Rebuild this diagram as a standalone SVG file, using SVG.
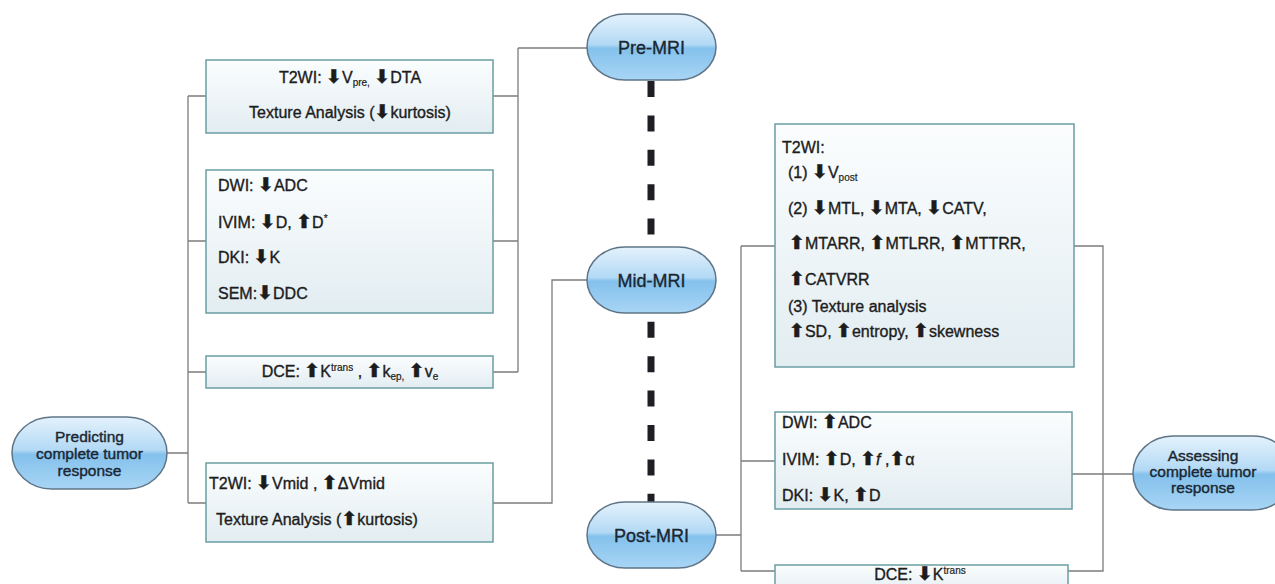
<svg xmlns="http://www.w3.org/2000/svg" width="1275" height="584" viewBox="0 0 1275 584">
<defs>
<linearGradient id="og" x1="0" y1="0" x2="0" y2="1">
<stop offset="0" stop-color="#e4f2fc"/>
<stop offset="0.46" stop-color="#b3d9f5"/>
<stop offset="0.52" stop-color="#84c1ec"/>
<stop offset="1" stop-color="#a8d5f5"/>
</linearGradient>
<linearGradient id="bg" x1="0" y1="0" x2="0" y2="1">
<stop offset="0" stop-color="#fbfdfe"/>
<stop offset="1" stop-color="#e2edf1"/>
</linearGradient>
<style>
.conn{fill:none;stroke:#7c7c7c;stroke-width:1.3}
.dash{fill:none;stroke:#1e1e24;stroke-width:7;stroke-dasharray:16 18.4}
.oval{fill:url(#og);stroke:#5f7587;stroke-width:1.5}
.box{fill:url(#bg);stroke:#6a9ea3;stroke-width:1.5}
.t{font-family:"Liberation Sans",Arial,sans-serif;font-size:16px;fill:#1c1c1c;stroke:#1c1c1c;stroke-width:0.35}
.ot{font-family:"Liberation Sans",Arial,sans-serif;font-size:18px;fill:#1a2733;stroke:#1a2733;stroke-width:0.35;text-anchor:middle}
.ot2{font-family:"Liberation Sans",Arial,sans-serif;font-size:15.5px;fill:#1a2733;stroke:#1a2733;stroke-width:0.4;text-anchor:middle}
.a{font-family:"DejaVu Sans",sans-serif;font-size:19px;font-weight:bold}
.s{font-size:10px;stroke-width:0.2}
.m{text-anchor:middle}
</style>
</defs>
<rect width="1275" height="584" fill="#ffffff"/>
<g id="connectors">
<line class="dash" x1="651" y1="81" x2="651" y2="502"/>
<path class="conn" d="M167 453 H188 M188 96 V503 M188 96 H206 M188 241 H206 M188 372 H206 M188 503 H206"/>
<path class="conn" d="M493 96 H518 M493 241 H518 M493 372 H518 M518 48 V372 M518 48 H587"/>
<path class="conn" d="M493 503 H552 V280 H587"/>
<path class="conn" d="M716 535 H741 M741 246 V571 M741 246 H775 M741 461 H775 M741 571 H775"/>
<path class="conn" d="M1074 246 H1103 V571 H1068 M1072 474 H1133"/>
</g>
<g id="pre-mri">
<rect class="oval" x="587" y="14" width="129" height="66" rx="38" ry="33"/>
<text class="ot" x="651.5" y="54">Pre-MRI</text>
</g>
<g id="mid-mri">
<rect class="oval" x="587" y="247" width="129" height="66" rx="38" ry="33"/>
<text class="ot" x="651.5" y="287">Mid-MRI</text>
</g>
<g id="post-mri">
<rect class="oval" x="587" y="502" width="129" height="66" rx="38" ry="33"/>
<text class="ot" x="651.5" y="542">Post-MRI</text>
</g>
<g id="predicting">
<rect class="oval" x="12" y="417" width="155" height="72" rx="40" ry="36"/>
<text class="ot2" x="89.5" y="442">Predicting</text>
<text class="ot2" x="89.5" y="459">complete tumor</text>
<text class="ot2" x="89.5" y="476">response</text>
</g>
<g id="assessing">
<rect class="oval" x="1133" y="436" width="160" height="74" rx="40" ry="37"/>
<text class="ot2" x="1203" y="461">Assessing</text>
<text class="ot2" x="1203" y="477">complete tumor</text>
<text class="ot2" x="1203" y="493">response</text>
</g>
<g id="pre-t2wi">
<rect class="box" x="206" y="60" width="287" height="73"/>
<text class="t m" x="350" y="83">T2WI: <tspan class="a">⬇</tspan>V<tspan class="s" dy="3">pre,</tspan><tspan dy="-3"> </tspan><tspan class="a">⬇</tspan>DTA</text>
<text class="t m" x="350" y="118">Texture Analysis (<tspan class="a">⬇</tspan>kurtosis)</text>
</g>
<g id="pre-dwi">
<rect class="box" x="206" y="170" width="287" height="143"/>
<text class="t" x="218" y="191">DWI: <tspan class="a">⬇</tspan>ADC</text>
<text class="t" x="218" y="228">IVIM: <tspan class="a">⬇</tspan>D, <tspan class="a">⬆</tspan>D<tspan class="s" dy="-6">*</tspan></text>
<text class="t" x="218" y="263">DKI: <tspan class="a">⬇</tspan>K</text>
<text class="t" x="218" y="299">SEM:<tspan class="a">⬇</tspan>DDC</text>
</g>
<g id="pre-dce">
<rect class="box" x="206" y="356" width="287" height="32"/>
<text class="t m" x="350" y="377">DCE: <tspan class="a">⬆</tspan>K<tspan class="s" dy="-6">trans</tspan><tspan dy="6"> , </tspan><tspan class="a">⬆</tspan>k<tspan class="s" dy="3">ep,</tspan><tspan dy="-3"> </tspan><tspan class="a">⬆</tspan>v<tspan class="s" dy="3">e</tspan></text>
</g>
<g id="mid-t2wi">
<rect class="box" x="206" y="463" width="287" height="79"/>
<text class="t" x="209" y="489">T2WI: <tspan class="a">⬇</tspan>Vmid , <tspan class="a">⬆</tspan>ΔVmid</text>
<text class="t" x="216" y="525">Texture Analysis (<tspan class="a">⬆</tspan>kurtosis)</text>
</g>
<g id="post-t2wi">
<rect class="box" x="775" y="124" width="299" height="243"/>
<text class="t" x="782" y="153">T2WI:</text>
<text class="t" x="788" y="178">(1) <tspan class="a">⬇</tspan>V<tspan class="s" dy="3">post</tspan></text>
<text class="t" x="788" y="214">(2) <tspan class="a">⬇</tspan>MTL, <tspan class="a">⬇</tspan>MTA, <tspan class="a">⬇</tspan>CATV,</text>
<text class="t" x="789" y="249"><tspan class="a">⬆</tspan>MTARR, <tspan class="a">⬆</tspan>MTLRR, <tspan class="a">⬆</tspan>MTTRR,</text>
<text class="t" x="789" y="285"><tspan class="a">⬆</tspan>CATVRR</text>
<text class="t" x="788" y="312">(3) Texture analysis</text>
<text class="t" x="789" y="337"><tspan class="a">⬆</tspan>SD, <tspan class="a">⬆</tspan>entropy, <tspan class="a">⬆</tspan>skewness</text>
</g>
<g id="post-dwi">
<rect class="box" x="775" y="412" width="297" height="97"/>
<text class="t" x="782" y="428">DWI: <tspan class="a">⬆</tspan>ADC</text>
<text class="t" x="782" y="465">IVIM: <tspan class="a">⬆</tspan>D, <tspan class="a">⬆</tspan><tspan font-style="italic">f</tspan> ,<tspan class="a">⬆</tspan>α</text>
<text class="t" x="782" y="501">DKI: <tspan class="a">⬇</tspan>K, <tspan class="a">⬆</tspan>D</text>
</g>
<g id="post-dce">
<rect class="box" x="775" y="565" width="293" height="30"/>
<text class="t m" x="920" y="580">DCE: <tspan class="a">⬇</tspan>K<tspan class="s" dy="-6">trans</tspan></text>
</g>
</svg>
